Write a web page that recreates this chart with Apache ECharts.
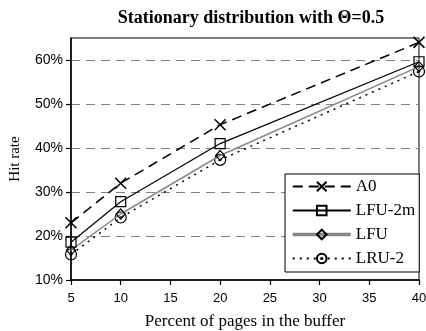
<!DOCTYPE html>
<html><head><meta charset="utf-8">
<script src="https://cdn.jsdelivr.net/npm/echarts@6/dist/echarts.min.js"></script>
<style>html,body{margin:0;padding:0;background:#fff}#c{width:426px;height:331px}</style>
</head><body><div id="c"></div>
<script>
var xValues = [5, 10, 20, 40];
var a0 = [23, 32, 45.3, 64];
var lfu2m = [18.6, 27.8, 41, 59.6];
var lfu = [16.8, 25, 38.3, 58.5];
var lru2 = [15.8, 24.2, 37.3, 57.4];
var yTicks = [10, 20, 30, 40, 50, 60];

function pairs(v){ return xValues.map(function(x,i){ return [x, v[i]]; }); }
var serif = '"Liberation Serif","Times New Roman",serif';
var sans = '"Liberation Sans",Arial,sans-serif';

var chart = echarts.init(document.getElementById('c'), null, {renderer:'canvas'});
chart.setOption({
  animation:false,
  backgroundColor:'#fff',
  title:{text:'Stationary distribution with Θ=0.5', left:246, top:4, textAlign:'center',
    textStyle:{fontFamily:serif, fontSize:18, fontWeight:'bold', color:'#000'}},
  grid:{left:71, top:38, right:7, bottom:51, show:true, borderColor:'#000', borderWidth:1,
    backgroundColor:'transparent', outerBoundsMode:'none', containLabel:false},
  legend:{orient:'vertical', left:285, top:174, width:138, itemWidth:58, itemHeight:12, itemGap:7,
    padding:[4,4,5,6], backgroundColor:'#fff', borderColor:'#000', borderWidth:1,
    textStyle:{fontFamily:serif, fontSize:17, color:'#000', padding:[0,0,0,0]},
    data:[{name:'A0'},{name:'LFU-2m'},{name:'LFU', lineStyle:{width:3.5, color:'#888'}},{name:'LRU-2'}]},
  xAxis:{type:'value', min:5, max:40, interval:5,
    name:'Percent of pages in the buffer', nameLocation:'middle', nameGap:33,
    nameTextStyle:{fontFamily:serif, fontSize:17, color:'#000'},
    axisLine:{lineStyle:{color:'#000', width:1.5}},
    axisTick:{show:true, length:5, lineStyle:{color:'#000', width:1.2}},
    axisLabel:{fontFamily:sans, fontSize:13, color:'#000', margin:12},
    splitLine:{show:false}},
  yAxis:{type:'value', min:10, max:65, interval:10,
    name:'Hit rate', nameLocation:'middle', nameGap:48,
    nameTextStyle:{fontFamily:serif, fontSize:15, color:'#000'},
    axisLine:{show:true, lineStyle:{color:'#000', width:1.5}},
    axisTick:{show:true, length:5, lineStyle:{color:'#000', width:1.2},
      customValues: yTicks},
    axisLabel:{fontFamily:sans, fontSize:14, color:'#000', margin:8,
      customValues: yTicks,
      formatter:function(v){ return yTicks.indexOf(v) >= 0 ? v + '%' : ''; }},
    splitLine:{show:true, lineStyle:{color:'#808080', width:1, type:[9,6]}}},
  series:[
    {name:'A0', type:'line', data:pairs(a0), z:5,
      symbol:'path://M0,0L10,10M10,0L0,10', symbolSize:11,
      lineStyle:{color:'#000', width:1.5, type:[10,6]},
      itemStyle:{color:'transparent', borderColor:'#000', borderWidth:1.5}},
    {name:'LFU-2m', type:'line', data:pairs(lfu2m), z:4,
      symbol:'rect', symbolSize:10,
      lineStyle:{color:'#000', width:1.2, type:'solid'},
      itemStyle:{color:'transparent', borderColor:'#000', borderWidth:1.2}},
    {name:'LFU', type:'line', data:pairs(lfu), z:3,
      symbol:'diamond', symbolSize:[9,10],
      lineStyle:{color:'#888', width:1.5, type:'solid'},
      itemStyle:{color:'transparent', borderColor:'#000', borderWidth:1.2}},
    {name:'LRU-2', type:'line', data:pairs(lru2), z:2,
      symbol:'path://M10,5A5,5 0 1 1 0,5A5,5 0 1 1 10,5ZM5.6,5A0.6,0.6 0 1 1 4.4,5A0.6,0.6 0 1 1 5.6,5Z', symbolSize:11,
      lineStyle:{color:'#000', width:1.5, type:[2,5]},
      itemStyle:{color:'transparent', borderColor:'#000', borderWidth:1.2}}
  ]
});
</script></body></html>
